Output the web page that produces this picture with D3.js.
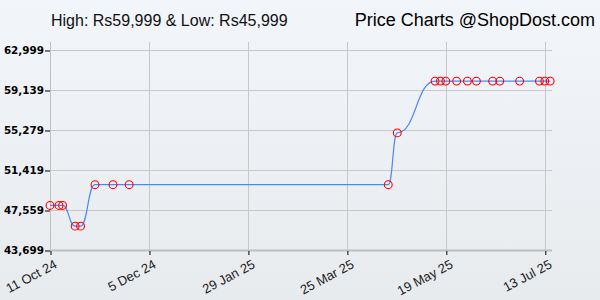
<!DOCTYPE html>
<html>
<head>
<meta charset="utf-8">
<script src="https://cdn.jsdelivr.net/npm/d3@7"></script>
<style>
  html, body { margin: 0; padding: 0; background: #eef1f4; }
  svg { display: block; }
</style>
</head>
<body>
<svg id="chart" width="600" height="300"></svg>
<script>
// ---- data ----
const dates = ["2024-10-11","2024-10-16","2024-10-18","2024-10-25","2024-10-28","2024-11-05","2024-11-15","2024-11-24",
  "2025-04-17","2025-04-22","2025-05-13","2025-05-16","2025-05-19","2025-05-25","2025-05-31","2025-06-05",
  "2025-06-14","2025-06-18","2025-06-29","2025-07-10","2025-07-13","2025-07-16"];
const prices = [47999,47999,47999,45999,45999,49999,49999,49999,
  49999,54999,59999,59999,59999,59999,59999,59999,
  59999,59999,59999,59999,59999,59999];
const yTickValues = [43699,47559,51419,55279,59139,62999];
const xTickDates = ["2024-10-11","2024-12-05","2025-01-29","2025-03-25","2025-05-19","2025-07-13"];
const xDomain = ["2024-10-11","2025-07-17"];
const titleLeft = "High: Rs59,999 & Low: Rs45,999";
const titleRight = "Price Charts @ShopDost.com";

// ---- chart ----
const W = 600, H = 300;
const M = {left: 50, right: 48, top: 50, bottom: 50};
const svg = d3.select("#chart");
const parse = d3.utcParse("%Y-%m-%d");
const data = dates.map((d, i) => ({date: parse(d), price: prices[i]}));

const defs = svg.append("defs");
const grad = defs.append("linearGradient").attr("id", "bg").attr("x1", 0).attr("y1", 0).attr("x2", 0).attr("y2", 1);
grad.append("stop").attr("offset", "0%").attr("stop-color", "#f2f5f9");
grad.append("stop").attr("offset", "100%").attr("stop-color", "#e8ebee");
svg.append("rect").attr("width", W).attr("height", H).attr("fill", "url(#bg)");

const x = d3.scaleUtc().domain(xDomain.map(parse)).range([M.left, W - M.right]);
const y = d3.scaleLinear().domain([43699, 62999]).range([H - M.bottom, M.top]);

// grid
const grid = svg.append("g");
grid.selectAll("line.h").data(yTickValues).join("line")
  .attr("x1", M.left).attr("x2", W - M.right)
  .attr("y1", d => y(d) + 0.5).attr("y2", d => y(d) + 0.5)
  .attr("stroke", "#c8c8c8").attr("stroke-width", 1);
grid.selectAll("line.v").data(xTickDates.map(parse)).join("line")
  .attr("x1", d => Math.round(x(d)) + 0.5).attr("x2", d => Math.round(x(d)) + 0.5)
  .attr("y1", M.top - 8).attr("y2", H - M.bottom)
  .attr("stroke", "#c8c8c8").attr("stroke-width", 1);

// left axis line
svg.append("line").attr("x1", M.left + 0.5).attr("x2", M.left + 0.5)
  .attr("y1", M.top - 8).attr("y2", H - M.bottom).attr("stroke", "#c0c0c0");

// bottom axis line
svg.append("line").attr("x1", M.left).attr("x2", W - M.right)
  .attr("y1", H - M.bottom + 0.5).attr("y2", H - M.bottom + 0.5)
  .attr("stroke", "#bdbdbd").attr("stroke-width", 2);

// y axis
const yAxis = d3.axisLeft(y).tickValues(yTickValues).tickSize(5).tickPadding(1)
  .tickFormat(d3.format(","));
const gy = svg.append("g").attr("transform", `translate(${M.left},0.5)`).call(yAxis);
gy.select(".domain").remove();
gy.selectAll(".tick line").attr("stroke", "#000");
gy.selectAll(".tick text")
  .attr("font-family", "'DejaVu Sans', Verdana, sans-serif")
  .attr("font-weight", "bold").attr("font-size", 10.4).attr("fill", "#000");

// x axis
const xAxis = d3.axisBottom(x).tickValues(xTickDates.map(parse)).tickSize(4)
  .tickFormat(d3.utcFormat("%-d %b %y"));
const gx = svg.append("g").attr("transform", `translate(0.5,${H - M.bottom + 1})`).call(xAxis);
gx.select(".domain").remove();
gx.selectAll(".tick line").attr("stroke", "#000");
gx.selectAll(".tick text")
  .attr("font-family", "'Liberation Sans', Arial, sans-serif")
  .attr("font-size", 13).attr("fill", "#222")
  .attr("text-anchor", "end")
  .attr("dy", null).attr("y", null)
  .attr("transform", "translate(7,16.2) rotate(-28)");

// line
const line = d3.line().x(d => x(d.date)).y(d => y(d.price)).curve(d3.curveBumpX);
svg.append("path").datum(data).attr("d", line)
  .attr("fill", "none").attr("stroke", "#4a8af0").attr("stroke-width", 1.2);

// points
svg.append("g").selectAll("circle").data(data).join("circle")
  .attr("cx", d => x(d.date)).attr("cy", d => y(d.price)).attr("r", 3.9)
  .attr("fill", "none").attr("stroke", "#ff0000").attr("stroke-width", 1.1);

// titles
svg.append("text").attr("x", 51).attr("y", 26)
  .attr("font-family", "'Liberation Sans', Arial, sans-serif").attr("font-size", 16)
  .attr("fill", "#111").text(titleLeft);
svg.append("text").attr("x", 595).attr("y", 26).attr("text-anchor", "end")
  .attr("font-family", "'Liberation Sans', Arial, sans-serif").attr("font-size", 18)
  .attr("fill", "#000").text(titleRight);
</script>
</body>
</html>
